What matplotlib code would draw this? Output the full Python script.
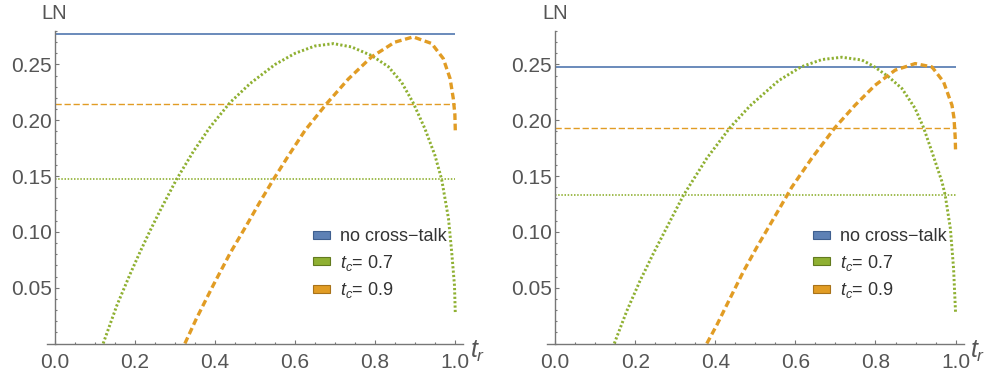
import matplotlib
matplotlib.use('Agg')
import matplotlib.pyplot as plt
import matplotlib.patches as mpatches
from matplotlib.ticker import MultipleLocator

plt.rcParams['font.family'] = ['Liberation Sans', 'DejaVu Sans']
plt.rcParams['mathtext.fontset'] = 'custom'
plt.rcParams['mathtext.it'] = 'Liberation Sans:italic'
plt.rcParams['mathtext.rm'] = 'Liberation Sans'

# ---------------- data ----------------
x_ticks = [0.0, 0.2, 0.4, 0.6, 0.8, 1.0]
x_tick_labels = ["0.0", "0.2", "0.4", "0.6", "0.8", "1.0"]
y_ticks = [0.05, 0.10, 0.15, 0.20, 0.25]
y_tick_labels = ["0.05", "0.10", "0.15", "0.20", "0.25"]

legend_labels = ["no cross\u2212talk", "$t_c$= 0.7", "$t_c$= 0.9"]

# left panel
L_no_crosstalk = 0.2777
L_const_07 = 0.147
L_const_09 = 0.215
L_tr_07 = [0.121, 0.155, 0.188, 0.213, 0.238, 0.263, 0.304, 0.346, 0.388,
           0.438, 0.488, 0.550, 0.600, 0.650, 0.696, 0.741, 0.791, 0.833, 0.866,
           0.895, 0.924, 0.949, 0.966, 0.983, 0.991, 0.998, 1.0]
L_ln_07 = [0.0, 0.034, 0.062, 0.082, 0.101, 0.119, 0.147, 0.172, 0.194,
           0.216, 0.233, 0.250, 0.2600, 0.2666, 0.2687, 0.2657, 0.258, 0.248, 0.234,
           0.2156, 0.1926, 0.1688, 0.147, 0.112, 0.082, 0.052, 0.027]
L_tr_09 = [0.325, 0.354, 0.396, 0.438, 0.479, 0.511, 0.546, 0.583, 0.625, 0.679,
           0.733, 0.791, 0.849, 0.895, 0.941, 0.970, 0.987, 0.995, 0.999, 1.0]
L_ln_09 = [0.0, 0.0225, 0.0524, 0.081, 0.106, 0.126, 0.147, 0.168, 0.191, 0.215,
           0.237, 0.2568, 0.270, 0.2747, 0.2688, 0.2553, 0.2374, 0.2195, 0.205, 0.191]

# right panel
R_no_crosstalk = 0.2478
R_const_07 = 0.133
R_const_09 = 0.1935
R_tr_07 = [0.148, 0.179, 0.212, 0.246, 0.279, 0.321, 0.379, 0.437, 0.487, 0.558,
           0.614, 0.666, 0.716, 0.766, 0.795, 0.833, 0.866, 0.899, 0.920, 0.941,
           0.966, 0.974, 0.987, 0.995, 1.0]
R_ln_07 = [0.0, 0.029, 0.056, 0.081, 0.104, 0.133, 0.166, 0.1935, 0.2130, 0.2355,
           0.2478, 0.2544, 0.2565, 0.2540, 0.2485, 0.2389, 0.2285, 0.2106, 0.1935, 0.1717,
           0.1449, 0.133, 0.103, 0.067, 0.027]
R_tr_09 = [0.379, 0.404, 0.437, 0.470, 0.505, 0.541, 0.591, 0.641, 0.699, 0.749,
           0.799, 0.849, 0.899, 0.941, 0.970, 0.991, 0.996, 0.999, 1.0]
R_ln_09 = [0.0, 0.0166, 0.0405, 0.0643, 0.087, 0.109, 0.140, 0.166, 0.1935, 0.2135,
           0.2314, 0.2449, 0.2508, 0.2478, 0.2344, 0.2135, 0.202, 0.185, 0.1717]

# ---------------- style ----------------
BLUE = '#5E81B5'
ORANGE = '#E19C24'
GREEN = '#8FB032'
AX_COL = '#777777'
TXT_COL = '#555555'

W, H = 986, 376
fig = plt.figure(figsize=(W / 100, H / 100), dpi=100)
axL = fig.add_axes([46.7 / W, 32.5 / H, 416.6 / W, 312.5 / H])
axR = fig.add_axes([547.0 / W, 32.5 / H, 416.6 / W, 312.5 / H])


def style(ax):
    ax.set_xlim(-0.02, 1.02)
    ax.set_ylim(0, 0.28)
    for s in ['top', 'right']:
        ax.spines[s].set_visible(False)
    ax.spines['left'].set_position(('data', 0))
    for s in ['left', 'bottom']:
        ax.spines[s].set_color(AX_COL)
        ax.spines[s].set_linewidth(1.0)
    ax.set_xticks(x_ticks)
    ax.set_xticklabels(x_tick_labels)
    ax.set_yticks(y_ticks)
    ax.set_yticklabels(y_tick_labels)
    ax.xaxis.set_minor_locator(MultipleLocator(0.05))
    ax.yaxis.set_minor_locator(MultipleLocator(0.01))
    ax.tick_params(which='both', direction='in', color=AX_COL, width=0.8)
    ax.tick_params(which='major', length=3.0, labelsize=15, labelcolor=TXT_COL)
    ax.tick_params(which='minor', length=1.6)
    ax.tick_params(axis='x', which='major', pad=6.5)
    ax.tick_params(axis='y', which='major', pad=2)
    ax.patch.set_visible(False)
    ax.text(0.019, 1.057, "LN", transform=ax.transAxes, ha='center', va='center',
            fontsize=14.5, color=TXT_COL)
    ax.text(1.035, -0.025, "$t_r$", transform=ax.transAxes, ha='center', va='center',
            fontsize=18, color=TXT_COL)


def draw(ax, nc, c07, c09, tr07, ln07, tr09, ln09):
    ax.plot([0, 1], [nc, nc], color=BLUE, lw=1.3, solid_capstyle='butt')
    ax.plot([0, 1], [c09, c09], color=ORANGE, lw=1.0, dashes=(4.5, 2.0))
    ax.plot([0, 1], [c07, c07], color=GREEN, lw=1.2, dashes=(0.9, 1.0))
    ax.plot(tr07, ln07, color=GREEN, lw=2.1, dashes=(0.75, 0.75))
    ax.plot(tr09, ln09, color=ORANGE, lw=2.4, dashes=(2.0, 1.1))
    handles = [
        mpatches.Patch(facecolor=BLUE, edgecolor='#3f5f8f', lw=0.8),
        mpatches.Patch(facecolor=GREEN, edgecolor='#627a1f', lw=0.8),
        mpatches.Patch(facecolor=ORANGE, edgecolor='#a8721a', lw=0.8),
    ]
    leg = ax.legend(handles, legend_labels, loc='center left',
                    bbox_to_anchor=(0.6385, 0.254), frameon=False,
                    fontsize=13, handlelength=0.95, handleheight=0.3,
                    handletextpad=0.55, labelspacing=0.42, borderpad=0,
                    borderaxespad=0)
    for t in leg.get_texts():
        t.set_color('#333333')


style(axL)
style(axR)
draw(axL, L_no_crosstalk, L_const_07, L_const_09, L_tr_07, L_ln_07, L_tr_09, L_ln_09)
draw(axR, R_no_crosstalk, R_const_07, R_const_09, R_tr_07, R_ln_07, R_tr_09, R_ln_09)

fig.savefig('out.png', dpi=100)
